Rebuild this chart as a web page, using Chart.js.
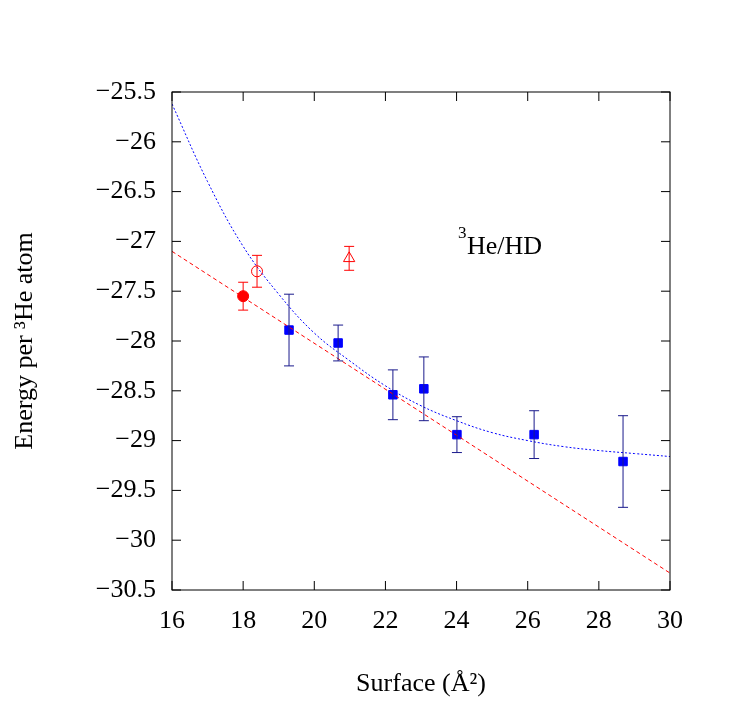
<!DOCTYPE html>
<html><head><meta charset="utf-8">
<script src="https://cdn.jsdelivr.net/npm/chart.js@4/dist/chart.umd.min.js"></script>
<style>html,body{margin:0;padding:0;background:#fff}#w{width:747px;height:704px}</style>
</head><body><div id="w"><canvas id="c"></canvas></div>
<script>
const xTicks=[16,18,20,22,24,26,28,30];
const yTicks=[-25.5,-26,-26.5,-27,-27.5,-28,-28.5,-29,-29.5,-30,-30.5];
const squareX=[19.29,20.67,22.21,23.08,24.01,26.18,28.68];
const squareY=[-27.89,-28.02,-28.54,-28.48,-28.94,-28.94,-29.21];
const squareErr=[0.36,0.18,0.25,0.32,0.18,0.24,0.46];
const filledCircle={x:18.0,y:-27.55,err:0.14};
const openCircle={x:18.39,y:-27.30,err:0.16};
const triangle={x:20.98,y:-27.17,err:0.12};
const redLineX=[16,30];
const redLineY=[-27.10,-30.33];
const blueCurveX=[16,17,18,19,20,21,22,23,24,25,26,27,28,29,30];
const blueCurveY=[-25.62,-26.4,-27.05,-27.53,-27.92,-28.2,-28.45,-28.65,-28.8,-28.92,-29.0,-29.06,-29.1,-29.13,-29.16];

const zip=(a,b)=>a.map((v,i)=>({x:v,y:b[i]}));
const F='"Liberation Serif", "DejaVu Serif", serif';

const errPlugin={id:'err',afterDatasetsDraw(ch){
  const c=ch.ctx,xs=ch.scales.x,ys=ch.scales.y,a=ch.chartArea;
  function bar(x,y,e,col){const px=xs.getPixelForValue(x),p1=ys.getPixelForValue(y-e),p2=ys.getPixelForValue(y+e);
    c.save();c.strokeStyle=col;c.lineWidth=1;c.beginPath();c.moveTo(px,p1);c.lineTo(px,p2);
    c.moveTo(px-5,p1);c.lineTo(px+5,p1);c.moveTo(px-5,p2);c.lineTo(px+5,p2);c.stroke();c.restore();}
  squareX.forEach((x,i)=>bar(x,squareY[i],squareErr[i],'#1a1a8c'));
  bar(filledCircle.x,filledCircle.y,filledCircle.err,'#ff0000');
  bar(openCircle.x,openCircle.y,openCircle.err,'#ff0000');
  bar(triangle.x,triangle.y,triangle.err,'#ff0000');
  c.save();c.strokeStyle='#000';c.lineWidth=1;
  c.strokeRect(a.left,a.top,a.right-a.left,a.bottom-a.top);
  c.beginPath();
  xTicks.forEach(v=>{const p=xs.getPixelForValue(v);c.moveTo(p,a.bottom);c.lineTo(p,a.bottom-9);c.moveTo(p,a.top);c.lineTo(p,a.top+9);});
  yTicks.forEach(v=>{const p=ys.getPixelForValue(v);c.moveTo(a.left,p);c.lineTo(a.left+9,p);c.moveTo(a.right,p);c.lineTo(a.right-9,p);});
  c.stroke();
  c.fillStyle='#000';c.textBaseline='alphabetic';
  c.font='17px '+F;c.fillText('3',458,238);
  c.font='26px '+F;c.fillText('He/HD',467,254);
  c.restore();
}};

new Chart(document.getElementById('c'),{
 type:'scatter',
 data:{datasets:[
  {type:'line',data:zip(redLineX,redLineY),borderColor:'#ff0000',borderWidth:1,borderDash:[4,3],pointRadius:0,fill:false},
  {type:'line',data:zip(blueCurveX,blueCurveY),borderColor:'#0000ff',borderWidth:1,borderDash:[2,2],pointRadius:0,tension:0.4,fill:false},
  {data:zip(squareX,squareY),pointStyle:'rect',pointRadius:6,backgroundColor:'#0000ff',borderColor:'#0000ff'},
  {data:[{x:filledCircle.x,y:filledCircle.y}],pointStyle:'circle',pointRadius:5.5,backgroundColor:'#ff0000',borderColor:'#ff0000'},
  {data:[{x:openCircle.x,y:openCircle.y}],pointStyle:'circle',pointRadius:5.5,backgroundColor:'rgba(0,0,0,0)',borderColor:'#ff0000',borderWidth:1},
  {data:[{x:triangle.x,y:triangle.y}],pointStyle:'triangle',pointRadius:6.5,backgroundColor:'rgba(0,0,0,0)',borderColor:'#ff0000',borderWidth:1}
 ]},
 options:{responsive:true,maintainAspectRatio:false,animation:false,
  layout:{padding:{left:0,right:77,top:92,bottom:0}},
  plugins:{legend:{display:false},tooltip:{enabled:false}},
  scales:{
   x:{type:'linear',min:16,max:30,grid:{display:false},border:{display:false},
      afterBuildTicks:s=>{s.ticks=xTicks.map(v=>({value:v}))},
      afterFit:s=>{s.height=114},
      ticks:{color:'#000',font:{family:F,size:26},padding:8,maxRotation:0},
      title:{display:true,text:'Surface (Å²)',color:'#000',font:{family:F,size:26},padding:{top:10}}},
   y:{type:'linear',min:-30.5,max:-25.5,grid:{display:false},border:{display:false},
      afterBuildTicks:s=>{s.ticks=yTicks.map(v=>({value:v}))},
      afterFit:s=>{s.width=172},
      ticks:{color:'#000',font:{family:F,size:26},padding:8,callback:v=>String(v).replace('-','−')},
      title:{display:true,text:'Energy per ³He atom',color:'#000',font:{family:F,size:26},padding:{top:10,bottom:10}}}
  }},
 plugins:[errPlugin]
});
</script></body></html>
